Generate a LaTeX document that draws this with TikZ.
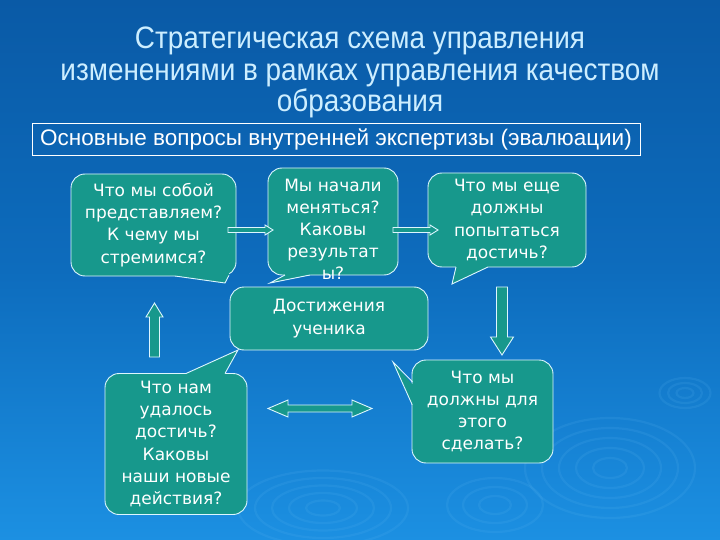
\documentclass[tikz,border=0pt]{standalone}
\usepackage{fontspec}
\setmainfont{DejaVu Sans}
\newfontfamily\titlefont[FakeStretch=0.9]{Liberation Sans}
\newfontfamily\boxfont{Liberation Sans}
\usetikzlibrary{calc}
\definecolor{bgtop}{HTML}{0A5AA6}
\definecolor{bgmid}{HTML}{0D6CBD}
\definecolor{bgbot}{HTML}{1C90E2}
\definecolor{bub}{HTML}{17988C}
\definecolor{bord}{HTML}{DDF6FF}
\definecolor{titlecol}{HTML}{CDEEFF}
\definecolor{ripple}{HTML}{5FB8F2}
\tikzset{
  bubble/.style={draw=bord, fill=bub, line width=0.9pt, rounded corners=14pt,
    inner sep=0pt, align=center, text=white,
    font=\fontsize{17}{22.3}\selectfont},
  bubtext/.style={align=center, text=white, inner sep=0pt,
    font=\fontsize{17}{22}\selectfont},
  tailline/.style={draw=bord, line width=0.9pt, line join=miter},
  barrow/.style={draw=bord, fill=bub, line width=0.9pt, line join=miter},
  titletext/.style={text=titlecol, inner sep=0pt, anchor=base,
    font=\titlefont\fontsize{31}{31.5}\selectfont},
  rip/.style={draw=ripple, line width=2.2pt, opacity=0.14}
}
\begin{document}
\begin{tikzpicture}[x=1pt,y=-1pt]
% background
\shade[top color=bgtop, bottom color=bgbot, middle color=bgmid] (0,0) rectangle (720,540);
\useasboundingbox (0,0) rectangle (720,540);
% ripples
\foreach \r in {1,2,3,4,5}{
  \draw[rip] (610,468) ellipse ({\r*17} and {\r*10});
  \draw[rip] (323,508) ellipse ({\r*17} and {\r*7.5});
}
\foreach \r in {1,2,3}{
  \draw[rip] (685,393) ellipse ({\r*8.5} and {\r*5});
  \draw[rip] (495,505) ellipse ({\r*16} and {\r*9});
}
% title
\node[titletext] (t1) at (360,49) {Стратегическая схема управления};
\node[titletext] (t2) at (360,81) {изменениями в рамках управления качеством};
\node[titletext] (t3) at (360,112) {образования};
% subtitle box
\node[draw=white, line width=0.9pt, minimum width=608pt, minimum height=32pt,
  inner sep=0pt, text=white, font=\boxfont\fontsize{22.5}{24}\selectfont]
  (qbox) at (336,139) {Основные вопросы внутренней экспертизы (эвалюации)};

% bubbles
\node[bubble, minimum width=165pt, minimum height=102pt] (b1) at (153.5,225)
  {Что мы собой\\представляем?\\К чему мы\\стремимся?};
\node[bubble, minimum width=130pt, minimum height=107pt] (b2) at (333,221.5) {};
\node[bubble, minimum width=158pt, minimum height=94pt] (b3) at (507,220)
  {Что мы еще\\должны\\попытаться\\достичь?};
\node[bubble, minimum width=198pt, minimum height=63pt] (b0) at (329,318.5)
  {Достижения\\ученика};
\node[bubble, minimum width=142pt, minimum height=141pt] (b4) at (176,444)
  {Что нам\\удалось\\достичь?\\Каковы\\наши новые\\действия?};
\node[bubble, minimum width=141pt, minimum height=103pt] (b5) at (482.5,411.5)
  {Что мы\\должны для\\этого\\сделать?};

% tails
\fill[bub] (175,273.5) -- (175,276) -- (225,283) -- (229,275) -- (229,272) -- cycle;
\draw[tailline] (175,276) -- (225,283) -- (229,275.3);
\fill[bub] (285,272.5) -- (285,275) -- (270,283) -- (310,275) -- (310,272.5) -- cycle;
\draw[tailline] (285,275) -- (270,283) -- (310,275);
\fill[bub] (456,264.5) -- (456,267) -- (452,284) -- (488,267) -- (488,264.5) -- cycle;
\draw[tailline] (456,267) -- (452,284) -- (488,267);
\fill[bub] (186,375.5) -- (186,373.5) -- (238,350) -- (225,373.5) -- (225,375.5) -- cycle;
\draw[tailline] (186,373.5) -- (238,350) -- (225,373.5);
\fill[bub] (414.5,384) -- (412,384) -- (393,362) -- (412.3,405) -- (414.5,405) -- cycle;
\draw[tailline] (412.6,382) -- (393,362) -- (412.3,405);

\node[bubtext, anchor=north] (b2t) at (333,179)
  {Мы начали\\меняться?\\Каковы\\результат\\ы?};

% block arrows
\draw[barrow] (228,227.5) -- (265,227.5) -- (265,225) -- (273,230) -- (265,235) -- (265,232.5) -- (228,232.5) -- cycle;
\draw[barrow] (393,227.5) -- (430,227.5) -- (430,225) -- (438,230) -- (430,235) -- (430,232.5) -- (393,232.5) -- cycle;
\draw[barrow] (149.5,357) -- (149.5,317) -- (146,317) -- (154.5,303) -- (163,317) -- (159.5,317) -- (159.5,357) -- cycle;
\draw[barrow] (496.5,287) -- (507.5,287) -- (507.5,337) -- (513.5,337) -- (502,355) -- (490.5,337) -- (496.5,337) -- cycle;
\draw[barrow] (268,408.5) -- (288,400) -- (288,405) -- (352,405) -- (352,400) -- (372,408.5) -- (352,417) -- (352,412) -- (288,412) -- (288,417) -- cycle;
\end{tikzpicture}
\end{document}
